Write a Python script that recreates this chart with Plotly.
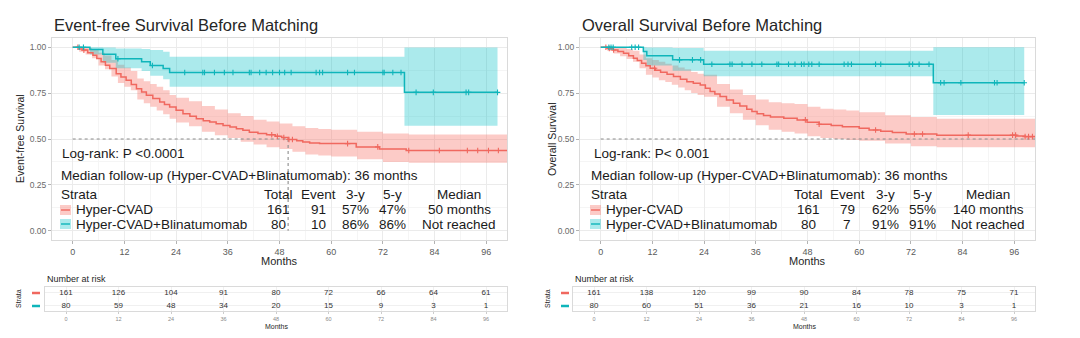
import numpy as np
import plotly.graph_objects as go

# ---------------- data ----------------
month_ticks = [0, 12, 24, 36, 48, 60, 72, 84, 96]
strata = ["Hyper-CVAD", "Hyper-CVAD+Blinatumomab"]

# Event-free survival
efs_red_t = [0, 1.5, 2.4, 3.5, 4.7, 5.6, 6.6, 7.6, 8.6, 10.1, 11.2, 12.4, 13.6, 14.8, 16, 17.1, 18.6,
             20.2, 21.3, 22.5, 24, 25.6, 27.2, 28.7, 30.3, 31.8, 33.3, 34.9, 36.5, 38, 39.5, 41, 43,
             45, 47, 48.5, 50, 52, 53.4, 55, 57.3, 65.8, 71.2, 77.4, 100.8]
efs_red_s = [1.0, 0.99, 0.984, 0.97, 0.956, 0.938, 0.92, 0.902, 0.884, 0.856, 0.838, 0.82, 0.797,
             0.774, 0.756, 0.738, 0.72, 0.701, 0.688, 0.674, 0.656, 0.638, 0.624, 0.61, 0.6, 0.592,
             0.583, 0.574, 0.565, 0.556, 0.547, 0.537, 0.53, 0.523, 0.515, 0.508, 0.497, 0.49, 0.483,
             0.478, 0.475, 0.457, 0.446, 0.437, 0.437]
band_t = [0, 1.5, 3, 4.5, 6, 7.5, 9, 10.5, 12, 13.5, 15, 16.5, 18, 19.5, 21, 22.5, 24, 27, 30, 33,
          36, 39, 42, 45, 48, 51, 54, 57, 60, 66, 72, 78, 100.8]
efs_red_hi = [1.0, 1.0, 0.995, 0.99, 0.97, 0.955, 0.93, 0.905, 0.89, 0.87, 0.83, 0.815, 0.8, 0.785,
              0.765, 0.74, 0.725, 0.705, 0.68, 0.66, 0.64, 0.625, 0.605, 0.595, 0.585, 0.57, 0.56,
              0.555, 0.55, 0.54, 0.53, 0.525, 0.525]
efs_red_lo = [1.0, 0.975, 0.96, 0.94, 0.9, 0.88, 0.84, 0.805, 0.785, 0.765, 0.715, 0.695, 0.675,
              0.655, 0.635, 0.61, 0.59, 0.57, 0.54, 0.52, 0.505, 0.485, 0.47, 0.455, 0.445, 0.43,
              0.415, 0.41, 0.405, 0.39, 0.375, 0.37, 0.37]
efs_red_cens = [1.2, 2.6, 46.2, 47.5, 49.0, 50.2, 51.0, 63.8, 70.8, 78.0, 85.1, 91.6, 94.0, 96.5, 98.8]

efs_blue_t = [0, 4, 7, 10, 16, 18, 21, 22.5, 77, 98.6]
efs_blue_s = [1.0, 0.987, 0.962, 0.937, 0.921, 0.9, 0.884, 0.862, 0.754, 0.754]
efs_blue_hi = [1.0, 1.0, 0.998, 0.993, 0.99, 0.985, 0.975, 0.948, 0.998, 0.998]
efs_blue_lo = [1.0, 0.96, 0.915, 0.885, 0.87, 0.845, 0.825, 0.785, 0.572, 0.572]
efs_blue_cens = [1.5, 2.5, 10.5, 18.5, 26, 30.2, 30.6, 32.9, 35.2, 37.2, 41, 41.4, 43.4, 44.9, 46.4,
                 48, 49.2, 50.7, 56.5, 57.3, 58, 63.8, 65.4, 72, 72.3, 74.3, 76.2, 79.7, 83.7,
                 91.3, 91.9, 98.6]

# Overall survival
os_red_t = [0, 1.5, 2.9, 4, 5.3, 6.5, 7.6, 8.5, 9.5, 10.5, 11.5, 12.7, 13.9, 15.4, 16.9, 18.5, 20,
            21.5, 23.1, 24.3, 25.4, 26.5, 27.7, 29.2, 30.8, 32.3, 33.9, 35.1, 36.3, 37.8, 39.4,
            42.5, 45.6, 47.9, 50.7, 53.5, 56.1, 60, 62.3, 65, 67.7, 70.9, 78, 96.4, 98.5, 100.8]
os_red_s = [1.0, 0.993, 0.985, 0.976, 0.967, 0.954, 0.94, 0.927, 0.913, 0.899, 0.885, 0.875, 0.864,
            0.852, 0.84, 0.826, 0.812, 0.803, 0.794, 0.776, 0.758, 0.745, 0.731, 0.713, 0.695,
            0.68, 0.662, 0.65, 0.637, 0.628, 0.62, 0.613, 0.604, 0.591, 0.58, 0.573, 0.567, 0.558,
            0.549, 0.542, 0.536, 0.527, 0.521, 0.517, 0.513, 0.513]
os_red_hi = [1.0, 1.0, 1.0, 0.995, 0.99, 0.98, 0.96, 0.94, 0.93, 0.92, 0.91, 0.9, 0.89, 0.88, 0.865,
             0.855, 0.85, 0.8, 0.77, 0.74, 0.715, 0.7, 0.695, 0.69, 0.675, 0.665, 0.66, 0.655,
             0.645, 0.63, 0.62, 0.61, 0.605]
os_red_lo = [1.0, 0.98, 0.965, 0.95, 0.935, 0.92, 0.885, 0.85, 0.835, 0.82, 0.81, 0.795, 0.78,
             0.765, 0.75, 0.74, 0.73, 0.675, 0.64, 0.605, 0.575, 0.55, 0.54, 0.53, 0.515, 0.505,
             0.5, 0.495, 0.49, 0.475, 0.46, 0.455, 0.445]
os_red_cens = [1.2, 2.0, 3.0, 12.5, 47.5, 50.7, 63.8, 72.8, 74.7, 85.3, 95.6, 96.3, 98.5, 99.3, 100.2]

os_blue_t = [0, 9.9, 10.7, 16.7, 23.9, 77.2, 98.3]
os_blue_s = [1.0, 0.976, 0.954, 0.931, 0.907, 0.806, 0.806]
os_blue_hi = [1.0, 1.0, 0.998, 0.995, 0.98, 0.999, 0.999]
os_blue_lo = [1.0, 0.93, 0.9, 0.872, 0.842, 0.631, 0.631]
os_blue_cens = [1.9, 2.4, 2.9, 7.2, 8.0, 8.8, 18.3, 21.3, 23.2, 25.8, 30, 30.5, 32.8, 35.1, 37.4,
                40.9, 41.3, 43.6, 45.1, 46.6, 47.2, 48.3, 49, 50.7, 56.5, 57.4, 58.2, 63.8, 65,
                71.6, 72.4, 73.9, 76.2, 78.9, 79.7, 83.6, 91.4, 92, 98.3]

# medians (months) for dashed line
efs_median = 50
os_median = 140

# numbers at risk
efs_risk_red = [161, 126, 104, 91, 80, 72, 66, 64, 61]
efs_risk_blue = [80, 59, 48, 34, 20, 15, 9, 3, 1]
os_risk_red = [161, 138, 120, 99, 90, 84, 78, 75, 71]
os_risk_blue = [80, 60, 51, 36, 21, 16, 10, 3, 1]

# legend tables
efs_total = [161, 80]
efs_event = [91, 10]
efs_3y = ["57%", "86%"]
efs_5y = ["47%", "86%"]
efs_med = ["50 months", "Not reached"]
os_total = [161, 80]
os_event = [79, 7]
os_3y = ["62%", "91%"]
os_5y = ["55%", "91%"]
os_med = ["140 months", "Not reached"]

# ---------------- style ----------------
W, H = 1080, 338
RED = "#F0685F"
BLUE = "#0FB5BA"
RED_FILL = "rgba(248,118,109,0.38)"
BLUE_FILL = "rgba(0,191,196,0.33)"
FONT = "Liberation Sans, Arial, sans-serif"


def px(x):
    return x / W


def py(y):
    return 1 - y / H


def step_at(ts, ss, t):
    i = np.searchsorted(np.array(ts), t, side="right") - 1
    return np.array(ss)[np.clip(i, 0, len(ss) - 1)]


fig = go.Figure()


def add_panel(xa, ya, curves, median):
    for t, lo, hi, fill in curves["bands"]:
        fig.add_trace(go.Scatter(x=t, y=hi, mode="lines", line=dict(width=0, shape="hv"),
                                 xaxis=xa, yaxis=ya, showlegend=False, hoverinfo="skip"))
        fig.add_trace(go.Scatter(x=t, y=lo, mode="lines", line=dict(width=0, shape="hv"),
                                 fill="tonexty", fillcolor=fill,
                                 xaxis=xa, yaxis=ya, showlegend=False, hoverinfo="skip"))
    fig.add_trace(go.Scatter(x=[0, median], y=[0.5, 0.5], mode="lines",
                             line=dict(color="#8c8c8c", width=1.1, dash="dot"),
                             xaxis=xa, yaxis=ya, showlegend=False, hoverinfo="skip"))
    if median <= 100:
        fig.add_trace(go.Scatter(x=[median, median], y=[0.5, 0], mode="lines",
                                 line=dict(color="#8c8c8c", width=1.1, dash="dot"),
                                 xaxis=xa, yaxis=ya, showlegend=False, hoverinfo="skip"))
    for t, s, cens, col in curves["lines"]:
        fig.add_trace(go.Scatter(x=t, y=s, mode="lines", line=dict(color=col, width=1.5, shape="hv"),
                                 xaxis=xa, yaxis=ya, showlegend=False, hoverinfo="skip"))
        fig.add_trace(go.Scatter(x=cens, y=step_at(t, s, cens), mode="markers",
                                 marker=dict(symbol="cross-thin", size=4,
                                             line=dict(color=col, width=1.1)),
                                 xaxis=xa, yaxis=ya, showlegend=False, hoverinfo="skip"))


add_panel("x", "y", {
    "bands": [(band_t, efs_red_lo, efs_red_hi, RED_FILL),
              (efs_blue_t, efs_blue_lo, efs_blue_hi, BLUE_FILL)],
    "lines": [(efs_red_t, efs_red_s, efs_red_cens, RED),
              (efs_blue_t, efs_blue_s, efs_blue_cens, BLUE)]}, efs_median)
add_panel("x2", "y2", {
    "bands": [(band_t, os_red_lo, os_red_hi, RED_FILL),
              (os_blue_t, os_blue_lo, os_blue_hi, BLUE_FILL)],
    "lines": [(os_red_t, os_red_s, os_red_cens, RED),
              (os_blue_t, os_blue_s, os_blue_cens, BLUE)]}, os_median)

for xa, ya, rr, rb in [("x3", "y3", efs_risk_red, efs_risk_blue), ("x4", "y4", os_risk_red, os_risk_blue)]:
    fig.add_trace(go.Scatter(x=month_ticks, y=[2] * len(month_ticks), mode="text",
                             text=[str(v) for v in rr], textfont=dict(size=8, color="#333", family=FONT),
                             xaxis=xa, yaxis=ya, showlegend=False, hoverinfo="skip"))
    fig.add_trace(go.Scatter(x=month_ticks, y=[1] * len(month_ticks), mode="text",
                             text=[str(v) for v in rb], textfont=dict(size=8, color="#333", family=FONT),
                             xaxis=xa, yaxis=ya, showlegend=False, hoverinfo="skip"))

main_x = dict(range=[-4.8, 100.8], tickvals=month_ticks, ticks="outside", ticklen=3,
              tickcolor="#b3b3b3", tickfont=dict(size=9, color="#5a5a5a", family=FONT),
              showgrid=True, gridcolor="#ebebeb", gridwidth=1,
              minor=dict(dtick=6, tick0=0, showgrid=True, gridcolor="#f5f5f5", gridwidth=1),
              zeroline=False, showline=True, linecolor="#dadada", mirror=True)
main_y = dict(range=[-0.05, 1.05], tickvals=[0, 0.25, 0.5, 0.75, 1.0],
              ticktext=["0.00", "0.25", "0.50", "0.75", "1.00"], ticks="outside", ticklen=3,
              tickcolor="#b3b3b3", tickfont=dict(size=8.5, color="#6a6a6a", family=FONT),
              showgrid=True, gridcolor="#ebebeb", gridwidth=1,
              minor=dict(dtick=0.125, tick0=0, showgrid=True, gridcolor="#f5f5f5", gridwidth=1),
              zeroline=False, showline=True, linecolor="#dadada", mirror=True)
risk_x = dict(range=[-4.8, 100.8], tickvals=month_ticks, ticks="outside", ticklen=2,
              tickcolor="#cccccc", tickfont=dict(size=5.5, color="#8a8a8a", family=FONT),
              showgrid=True, gridcolor="#f0f0f0", zeroline=False, showline=True,
              linecolor="#dadada", mirror=True)
risk_y = dict(range=[0.6, 2.45], tickvals=[1, 2], showticklabels=False, ticks="",
              showgrid=True, gridcolor="#f0f0f0", zeroline=False, showline=True,
              linecolor="#dadada", mirror=True)

fig.update_layout(
    width=W, height=H, margin=dict(l=0, r=0, t=0, b=0),
    paper_bgcolor="white", plot_bgcolor="white", font=dict(family=FONT),
    xaxis=dict(domain=[px(52), px(507)], anchor="y", **main_x),
    yaxis=dict(domain=[py(240), py(38)], anchor="x", **main_y),
    xaxis2=dict(domain=[px(580), px(1035)], anchor="y2", **main_x),
    yaxis2=dict(domain=[py(240), py(38)], anchor="x2", **main_y),
    xaxis3=dict(domain=[px(45), px(507)], anchor="y3", **risk_x),
    yaxis3=dict(domain=[py(311), py(287)], anchor="x3", **risk_y),
    xaxis4=dict(domain=[px(573), px(1035)], anchor="y4", **risk_x),
    yaxis4=dict(domain=[py(311), py(287)], anchor="x4", **risk_y),
)

ann = []
shapes = []


def text(x, y, s, size, color="#1a1a1a", xanchor="left", angle=0):
    ann.append(dict(x=px(x), y=py(y), xref="paper", yref="paper", text=s, showarrow=False,
                    xanchor=xanchor, yanchor="middle", textangle=angle,
                    font=dict(size=size, color=color, family=FONT)))


panels = [
    dict(dx=0, title="Event-free Survival Before Matching", ylab="Event-free Survival",
         pval="Log-rank: P <0.0001", tot=efs_total, ev=efs_event, y3=efs_3y, y5=efs_5y, med=efs_med,
         cols=[278, 318, 355, 392, 459], ylab_x=20, title_x=52, mon_x=279, risk_left=45, dash_x=32),
    dict(dx=530, title="Overall Survival Before Matching", ylab="Overall Survival",
         pval="Log-rank: P< 0.001", tot=os_total, ev=os_event, y3=os_3y, y5=os_5y, med=os_med,
         cols=[808, 847, 885, 922, 988], ylab_x=552, title_x=580, mon_x=807, risk_left=573, dash_x=561),
]

for p in panels:
    dx = p["dx"]
    text(p["title_x"], 25, p["title"], 16.5, "#262626")
    text(p["ylab_x"], 139, p["ylab"], 10.5, "#262626", xanchor="center", angle=-90)
    text(p["mon_x"], 261, "Months", 11, "#262626", xanchor="center")
    text(60 + dx + (2 if dx else 0), 153, p["pval"], 13.5)
    text(59 + dx, 175, "Median follow-up (Hyper-CVAD+Blinatumomab): 36 months", 13.5)
    text(59 + dx, 195, "Strata", 13.5)
    heads = ["Total", "Event", "3-y", "5-y", "Median"]
    for cx, h in zip(p["cols"], heads):
        text(cx, 195, h, 13.5, xanchor="center")
    for i, (name, col, fill) in enumerate([(strata[0], RED, RED_FILL), (strata[1], BLUE, BLUE_FILL)]):
        yy = 210 + 14 * i
        shapes.append(dict(type="rect", xref="paper", yref="paper", x0=px(60 + dx), x1=px(71 + dx),
                           y0=py(yy + 5), y1=py(yy - 5), fillcolor=fill, line=dict(width=0)))
        shapes.append(dict(type="line", xref="paper", yref="paper", x0=px(61 + dx), x1=px(70 + dx),
                           y0=py(yy), y1=py(yy), line=dict(color=col, width=1.4)))
        text(74 + dx, yy, name, 13.5)
        vals = [str(p["tot"][i]), str(p["ev"][i]), p["y3"][i], p["y5"][i], p["med"][i]]
        for cx, v in zip(p["cols"], vals):
            text(cx, yy, v, 13.5, xanchor="center")
    text(p["risk_left"], 279, "Number at risk", 9, "#262626")
    text(p["mon_x"] - 3, 326, "Months", 7, "#262626", xanchor="center")
    text(p["dash_x"] - 14, 299, "Strata", 7, "#262626", xanchor="center", angle=-90)
    for yy, col in [(293, RED), (306, BLUE)]:
        shapes.append(dict(type="line", xref="paper", yref="paper", x0=px(p["dash_x"]),
                           x1=px(p["dash_x"] + 8), y0=py(yy), y1=py(yy),
                           line=dict(color=col, width=2.5)))

fig.update_layout(annotations=ann, shapes=shapes)
fig.write_html("out.html")
